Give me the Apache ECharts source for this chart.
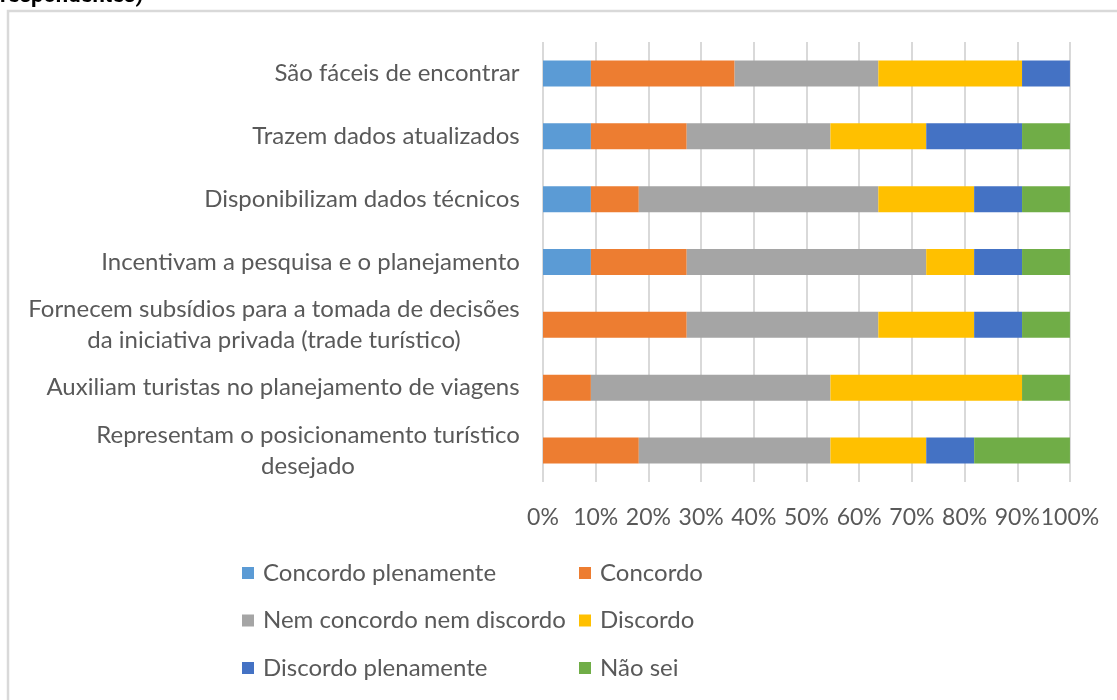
<!DOCTYPE html>
<html>
<head>
<meta charset="utf-8">
<script src="https://cdn.jsdelivr.net/npm/echarts@6/dist/echarts.min.js"></script>
<style>
  html, body { margin: 0; padding: 0; background: #fff; }
  #chart { width: 1117px; height: 700px; }
</style>
</head>
<body>
<div id="chart"></div>
<script>
  // categories, top to bottom
  var categories = [
    'São fáceis de encontrar',
    'Trazem dados atualizados',
    'Disponibilizam dados técnicos',
    'Incentivam a pesquisa e o planejamento',
    'Fornecem subsídios para a tomada de decisões\nda iniciativa privada (trade turístico)',
    'Auxiliam turistas no planejamento de viagens',
    'Representam o posicionamento turístico\ndesejado'
  ];
  var seriesNames = ['Concordo plenamente', 'Concordo', 'Nem concordo nem discordo', 'Discordo', 'Discordo plenamente', 'Não sei'];
  // percentages
  var concordoPlenamente = [9.09, 9.09, 9.09, 9.09, 0, 0, 0];
  var concordo = [27.27, 18.18, 9.09, 18.18, 27.27, 9.09, 18.18];
  var nemNem = [27.27, 27.27, 45.45, 45.45, 36.36, 45.45, 36.36];
  var discordo = [27.27, 18.18, 18.18, 9.09, 18.18, 36.36, 18.18];
  var discordoPlenamente = [9.09, 18.18, 9.09, 9.09, 9.09, 0, 9.09];
  var naoSei = [0, 9.09, 9.09, 9.09, 9.09, 9.09, 18.18];
  var xTicks = [0, 10, 20, 30, 40, 50, 60, 70, 80, 90, 100];

  var colors = ['#5B9BD5', '#ED7D31', '#A5A5A5', '#FFC000', '#4472C4', '#70AD47'];
  var values = [concordoPlenamente, concordo, nemNem, discordo, discordoPlenamente, naoSei];

  var labelFont = 'Lato';
  var labelSize = 24;

  // wrapped labels: center every line inside the widest one
  var ctx = document.createElement('canvas').getContext('2d');
  ctx.font = labelSize + 'px ' + labelFont;
  var rich = {};
  categories.forEach(function (c, i) {
    var w = 0;
    c.split('\n').forEach(function (l) { w = Math.max(w, ctx.measureText(l).width); });
    rich['c' + i] = { width: Math.ceil(w), align: 'center', fontSize: labelSize, fontFamily: labelFont, color: '#595959', lineHeight: 31 };
  });

  var myChart = echarts.init(document.getElementById('chart'));

  var series = seriesNames.map(function (name, k) {
    return {
      name: name,
      type: 'bar',
      stack: 'total',
      barWidth: 26,
      itemStyle: { color: colors[k] },
      data: values[k]
    };
  });

  var legendBase = {
    orient: 'vertical',
    top: 561,
    padding: 0,
    itemWidth: 12,
    itemHeight: 12,
    itemGap: 23.5,
    icon: 'rect',
    textStyle: { fontSize: 24, color: '#595959', lineHeight: 24, padding: [0, 0, 0, 4] }
  };

  myChart.setOption({
    animation: false,
    textStyle: { fontFamily: labelFont },
    title: {
      text: 'respondentes)',
      left: 0,
      top: -15,
      padding: 0,
      textStyle: { fontFamily: 'Roboto', fontWeight: 'bold', fontSize: 22, color: '#000' }
    },
    graphic: [{
      type: 'rect',
      silent: true,
      shape: { x: 8, y: 11, width: 1200, height: 800 },
      style: { fill: 'none', stroke: '#d9d9d9', lineWidth: 2.5 }
    }],
    legend: [
      Object.assign({ left: 242, data: [seriesNames[0], seriesNames[2], seriesNames[4]] }, legendBase),
      Object.assign({ left: 579, data: [seriesNames[1], seriesNames[3], seriesNames[5]] }, legendBase)
    ],
    grid: { left: 543, right: 47, top: 42, height: 440, containLabel: false },
    xAxis: {
      type: 'value',
      min: xTicks[0],
      max: xTicks[xTicks.length - 1],
      interval: xTicks[1] - xTicks[0],
      axisLine: { show: false },
      axisTick: { show: false },
      splitLine: { lineStyle: { color: '#d9d9d9', width: 2 } },
      axisLabel: {
        formatter: '{value}%',
        fontSize: 23,
        color: '#595959',
        margin: 24,
        showMinLabel: true,
        showMaxLabel: true,
        hideOverlap: false
      }
    },
    yAxis: {
      type: 'category',
      inverse: true,
      data: categories,
      axisLine: { show: false },
      axisTick: { show: false },
      axisLabel: {
        margin: 23,
        fontSize: labelSize,
        color: '#595959',
        formatter: function (v, i) {
          return v.split('\n').map(function (l) { return '{c' + i + '|' + l + '}'; }).join('\n');
        },
        rich: rich
      }
    },
    series: series
  });
</script>
</body>
</html>
